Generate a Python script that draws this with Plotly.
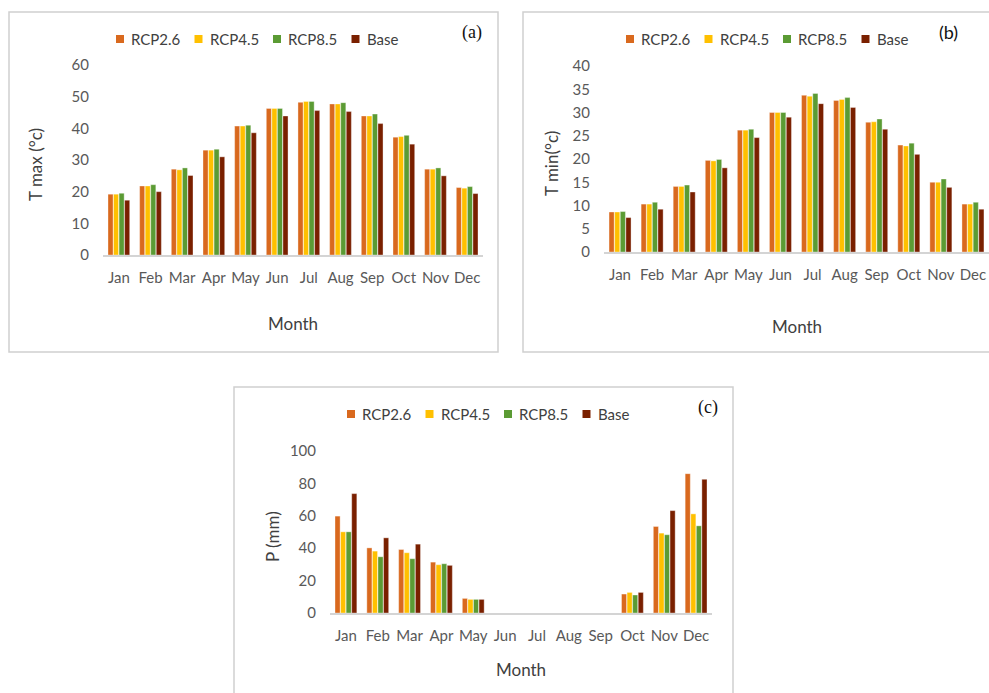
import plotly.graph_objects as go

W, H = 989, 693

months = ["Jan", "Feb", "Mar", "Apr", "May", "Jun", "Jul", "Aug", "Sep", "Oct", "Nov", "Dec"]
series_names = ["RCP2.6", "RCP4.5", "RCP8.5", "Base"]
series_colors = ["#D9691E", "#FFC000", "#5B9B34", "#7A2000"]

# (a) maximum temperature, °C
tmax_rcp26 = [19.2, 21.8, 27.1, 33.1, 40.7, 46.3, 48.2, 47.7, 43.9, 37.2, 27.1, 21.3]
tmax_rcp45 = [19.2, 21.8, 26.9, 33.1, 40.7, 46.3, 48.5, 47.7, 43.9, 37.4, 27.1, 21.1]
tmax_rcp85 = [19.5, 22.2, 27.5, 33.4, 41.0, 46.3, 48.5, 48.1, 44.5, 37.8, 27.5, 21.6]
tmax_base = [17.3, 20.0, 25.1, 31.0, 38.6, 43.9, 45.6, 45.3, 41.5, 35.0, 25.0, 19.4]

# (b) minimum temperature, °C
tmin_rcp26 = [8.6, 10.3, 14.1, 19.7, 26.2, 30.0, 33.7, 32.6, 27.9, 23.0, 15.0, 10.3]
tmin_rcp45 = [8.6, 10.3, 14.1, 19.6, 26.2, 30.0, 33.5, 32.8, 28.0, 22.8, 15.0, 10.3]
tmin_rcp85 = [8.7, 10.7, 14.4, 19.9, 26.4, 30.0, 34.1, 33.2, 28.6, 23.4, 15.7, 10.7]
tmin_base = [7.4, 9.2, 12.9, 18.1, 24.6, 29.0, 31.9, 31.1, 26.4, 21.0, 13.9, 9.2]

# (c) precipitation, mm
p_rcp26 = [59.8, 40.2, 39.2, 31.4, 9.0, 0, 0, 0, 0, 11.7, 53.4, 86.0]
p_rcp45 = [50.1, 38.2, 37.2, 29.8, 8.4, 0, 0, 0, 0, 12.7, 49.3, 61.2]
p_rcp85 = [50.1, 34.7, 33.5, 30.4, 8.4, 0, 0, 0, 0, 11.1, 48.3, 53.8]
p_base = [73.7, 46.4, 42.5, 29.4, 8.4, 0, 0, 0, 0, 12.7, 63.2, 82.5]

tmax_series = [tmax_rcp26, tmax_rcp45, tmax_rcp85, tmax_base]
tmin_series = [tmin_rcp26, tmin_rcp45, tmin_rcp85, tmin_base]
p_series = [p_rcp26, p_rcp45, p_rcp85, p_base]

FONT = "Lato, 'Open Sans', sans-serif"
TICK_COLOR = "#595959"
TITLE_COLOR = "#404040"


def px_x(v):
    return v / W


def px_y(v):
    return 1 - v / H


# panel layout in pixels: plot area (x0, x1, baseline, top), border box, legend row
panels = [
    dict(data=tmax_series, rng=[0, 60], dt=10, ytitle="T max (°c)", tag="(a)", tagfont="Liberation Serif",
         area=(103, 483, 255, 65), box=(9, 12, 498, 352), legend_y=39, legend_x=116,
         ytitle_x=35, month_y=324, tag_xy=(472, 32)),
    dict(data=tmin_series, rng=[0, 40], dt=5, ytitle="T min(°c)", tag="(b)", tagfont=FONT,
         area=(604, 989, 252, 66), box=(523, 12, 1000, 352), legend_y=39, legend_x=626,
         ytitle_x=551, month_y=326, tag_xy=(948, 32)),
    dict(data=p_series, rng=[0, 100], dt=20, ytitle="P (mm)", tag="(c)", tagfont="Liberation Serif",
         area=(330, 712, 613, 451), box=(234, 387, 733, 710), legend_y=414, legend_x=347,
         ytitle_x=272, month_y=669, tag_xy=(708, 407)),
]

LEGEND_STEP = 78.5
SWATCH = 8

fig = go.Figure()
layout = dict(
    width=W, height=H,
    margin=dict(l=0, r=0, t=0, b=0),
    paper_bgcolor="white", plot_bgcolor="white",
    barmode="group", bargap=0.3, bargroupgap=0.08,
    showlegend=False,
    font=dict(family=FONT, color=TICK_COLOR, size=15),
    shapes=[], annotations=[],
)

for i, p in enumerate(panels):
    n = i + 1
    xa = "x" if n == 1 else f"x{n}"
    ya = "y" if n == 1 else f"y{n}"
    x0, x1, base, top = p["area"]
    for name, color, vals in zip(series_names, series_colors, p["data"]):
        fig.add_trace(go.Bar(
            x=months, y=vals, name=name, xaxis=xa, yaxis=ya,
            marker=dict(color=color, line=dict(color="rgba(255,255,255,0.6)", width=0.6)),
        ))
    layout[f"xaxis{'' if n == 1 else n}"] = dict(
        domain=[px_x(x0), px_x(x1)], anchor=ya,
        showline=True, linecolor="#D4D4D4", linewidth=2,
        showgrid=False, zeroline=False, ticks="",
        tickfont=dict(size=15, color=TICK_COLOR, family=FONT),
        ticklabelstandoff=8, automargin=False,
    )
    layout[f"yaxis{'' if n == 1 else n}"] = dict(
        domain=[px_y(base), px_y(top)], anchor=xa,
        range=p["rng"], dtick=p["dt"], showline=False, showgrid=False,
        zeroline=False, ticks="",
        tickfont=dict(size=15, color=TICK_COLOR, family=FONT),
        ticklabelstandoff=13, automargin=False,
    )

    # legend row: colour swatch followed by series name
    ly = p["legend_y"]
    for k, (name, color) in enumerate(zip(series_names, series_colors)):
        sx = p["legend_x"] + k * LEGEND_STEP
        layout["shapes"].append(dict(
            type="rect", xref="paper", yref="paper",
            x0=px_x(sx), x1=px_x(sx + SWATCH),
            y0=px_y(ly + SWATCH / 2), y1=px_y(ly - SWATCH / 2),
            fillcolor=color, line=dict(width=0),
        ))
        layout["annotations"].append(dict(
            text=name, xref="paper", yref="paper", x=px_x(sx + SWATCH + 5), y=px_y(ly),
            xanchor="left", yanchor="middle", showarrow=False,
            font=dict(size=15, color=TITLE_COLOR, family=FONT),
        ))

    bx0, by0, bx1, by1 = p["box"]
    layout["shapes"].append(dict(
        type="rect", xref="paper", yref="paper",
        x0=px_x(bx0), x1=px_x(bx1), y0=px_y(by1), y1=px_y(by0),
        line=dict(color="#D0D0D0", width=1.5), layer="below",
    ))
    layout["annotations"] += [
        dict(text=p["ytitle"], xref="paper", yref="paper", x=px_x(p["ytitle_x"]),
             y=px_y((base + top) / 2 + 5), textangle=-90, showarrow=False,
             font=dict(size=17, color=TITLE_COLOR, family=FONT), xanchor="center", yanchor="middle"),
        dict(text="Month", xref="paper", yref="paper", x=px_x((x0 + x1) / 2), y=px_y(p["month_y"]),
             showarrow=False, font=dict(size=17, color=TITLE_COLOR, family=FONT),
             xanchor="center", yanchor="middle"),
        dict(text=p["tag"], xref="paper", yref="paper", x=px_x(p["tag_xy"][0]), y=px_y(p["tag_xy"][1]),
             showarrow=False, font=dict(size=18, color="#111111", family=p["tagfont"]),
             xanchor="center", yanchor="middle"),
    ]

fig.update_layout(**layout)
fig.write_html("out.html")
